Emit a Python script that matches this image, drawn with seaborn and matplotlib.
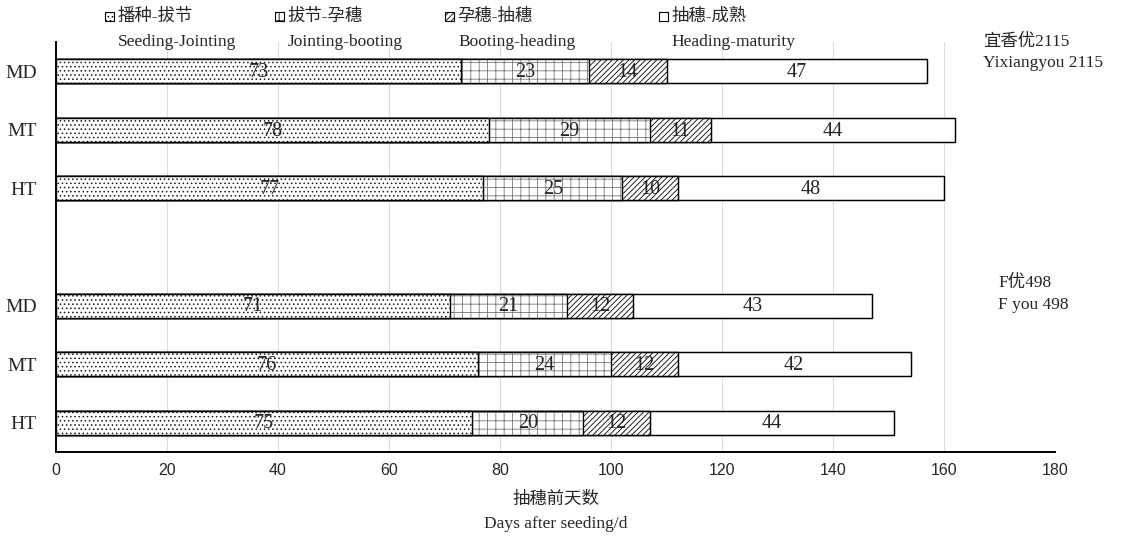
import pandas as pd
import numpy as np
import matplotlib
matplotlib.use("Agg")
import matplotlib.pyplot as plt
import matplotlib.patches as mpatches
import seaborn as sns

# Data (days per growth stage)
treatments = ['MD', 'MT', 'HT']
stage_cn = ['播种-拔节', '拔节-孕穗', '孕穗-抽穗', '抽穗-成熟']
stage_en = ['Seeding-Jointing', 'Jointing-booting', 'Booting-heading', 'Heading-maturity']
yxy_seed_joint = [73, 78, 77]
yxy_joint_boot = [23, 29, 25]
yxy_boot_head = [14, 11, 10]
yxy_head_mat = [47, 44, 48]
fy_seed_joint = [71, 76, 75]
fy_joint_boot = [21, 24, 20]
fy_boot_head = [12, 12, 12]
fy_head_mat = [43, 42, 44]

sns.set_style('white')
plt.rcParams['font.family'] = ['Liberation Serif', 'Noto Sans CJK SC', 'DejaVu Sans']
plt.rcParams['hatch.linewidth'] = 0.6

# long table, one row per bar slot
rows = []
for cult, stages in [('Y', [yxy_seed_joint, yxy_joint_boot, yxy_boot_head, yxy_head_mat]),
                     ('F', [fy_seed_joint, fy_joint_boot, fy_boot_head, fy_head_mat])]:
    for i, t in enumerate(treatments):
        vals = [s[i] for s in stages]
        cum = np.cumsum(vals)
        rows.append({'slot': f'{cult}_{t}', 'treat': t,
                     's1': vals[0], 's2': vals[1], 's3': vals[2], 's4': vals[3],
                     'c1': cum[0], 'c2': cum[1], 'c3': cum[2], 'c4': cum[3]})
df = pd.DataFrame(rows)
order = ['Y_MD', 'Y_MT', 'Y_HT', 'gap', 'F_MD', 'F_MT', 'F_HT']

hatches = ['....', '++', '//////', '']
hatch_cols = ['#1a1a1a', '#777777', 'black', 'black']

fig = plt.figure(figsize=(11.31, 5.37), dpi=100)
ax = fig.add_axes([56/1131, 1-452/537, (1055-56)/1131, (452-42)/537])

# stacked bars drawn longest first so shorter ones sit on top
for k in [4, 3, 2, 1]:
    sns.barplot(data=df, x=f'c{k}', y='slot', order=order, orient='h',
                color='white', saturation=1, edgecolor=hatch_cols[k-1], linewidth=0.9,
                hatch=hatches[k-1], width=0.41, errorbar=None, zorder=2, ax=ax)
    # black outline over the segment
    sns.barplot(data=df, x=f'c{k}', y='slot', order=order, orient='h',
                fill=False, edgecolor='black', linewidth=0.9,
                width=0.41, errorbar=None, zorder=2, ax=ax)

# segment value labels
for _, r in df.iterrows():
    ypos = order.index(r['slot'])
    left = 0
    for k in range(1, 5):
        w = r[f's{k}']
        ax.text(left + w/2, ypos + 0.02, str(w), ha='center', va='center', fontsize=14.5, zorder=5)
        left += w

ax.set_xlim(0, 180)
ax.set_xticks(range(0, 181, 20))
ax.set_ylim(6.5, -0.5)
ax.set_yticks([0, 1, 2, 4, 5, 6])
ax.set_yticklabels(treatments + treatments, fontsize=14)
ax.set_ylabel('')
ax.set_xlabel('抽穗前天数\nDays after seeding/d', fontsize=12.5, linespacing=1.7, labelpad=10)
for lab in ax.get_xticklabels():
    lab.set_fontfamily(['Liberation Sans', 'DejaVu Sans'])
    lab.set_fontsize(11.5)
ax.tick_params(axis='x', direction='in', length=4, width=1.2, pad=8)
ax.tick_params(axis='y', length=0, pad=14)
ax.grid(axis='x', color='#dcdcdc', linewidth=0.8, zorder=0)
ax.set_axisbelow(True)
sns.despine(ax=ax, top=True, right=True)
ax.spines['left'].set_linewidth(1.4)
ax.spines['bottom'].set_linewidth(1.4)
ax.spines['left'].set_color('black')
ax.spines['bottom'].set_color('black')

# legend built by hand: small hatched box + Chinese, English below
box_x = [105, 275, 445, 659]
en_x = [118, 288, 458, 671]
for i in range(4):
    fig.add_artist(mpatches.Rectangle((box_x[i]/1131, 1-21/537), 9/1131, 9/537,
                                      transform=fig.transFigure, facecolor='white',
                                      edgecolor='black', linewidth=0.8, hatch=hatches[i]))
    fig.text((box_x[i]+12)/1131, 1-17/537, stage_cn[i], fontsize=12.5, va='center', ha='left')
    fig.text(en_x[i]/1131, 1-42/537, stage_en[i], fontsize=12.5, va='center', ha='left')

# cultivar labels
fig.text(983/1131, 1-42/537, '宜香优2115', fontsize=12.5, va='center')
fig.text(983/1131, 1-63/537, 'Yixiangyou 2115', fontsize=12.5, va='center')
fig.text(998/1131, 1-283/537, 'F优498', fontsize=12.5, va='center')
fig.text(998/1131, 1-305/537, 'F you 498', fontsize=12.5, va='center')

fig.savefig('out.png', dpi=100)
